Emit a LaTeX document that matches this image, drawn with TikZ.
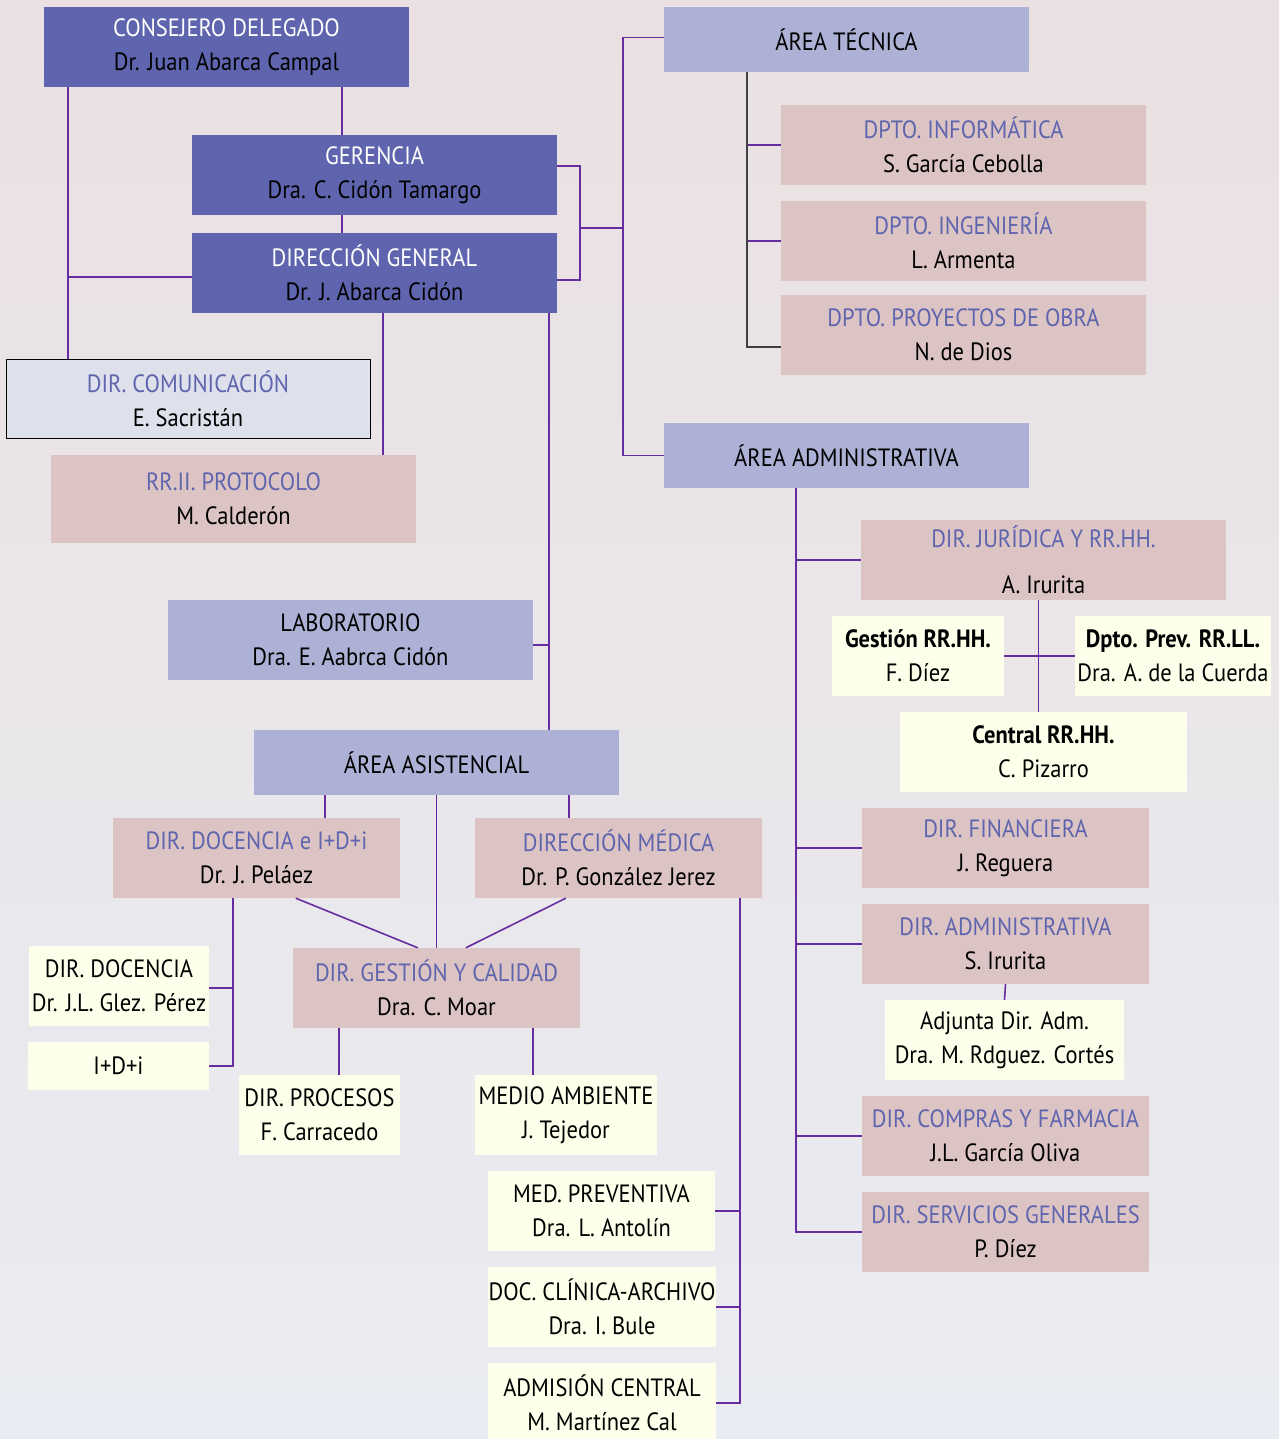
\documentclass[tikz,border=0pt]{standalone}
\usepackage{fontspec}
\setmainfont[FakeStretch=0.9]{PT Sans}
\usepackage{xcolor}
\usepackage{tikz}
\usetikzlibrary{calc}
\definecolor{darkcolor}{RGB}{94,101,174}
\definecolor{areacolor}{RGB}{173,177,213}
\definecolor{pinkcolor}{RGB}{221,196,196}
\definecolor{creamcolor}{RGB}{253,255,234}
\definecolor{commcolor}{RGB}{222,224,236}
\definecolor{titlecolor}{RGB}{94,101,174}
\definecolor{linkcolor}{RGB}{102,45,160}
\definecolor{bgtop}{RGB}{234,224,225}
\definecolor{bgbot}{RGB}{233,236,242}
\newcommand{\cargo}[1]{\textcolor{titlecolor}{#1}}

\begin{document}
\begin{tikzpicture}[
    x=1pt, y=-1pt,
    every node/.style={minimum height=80pt, inner sep=0pt, align=center, font=\fontsize{25}{34}\selectfont},
    darkbox/.style={fill=darkcolor, minimum width=365pt},
    areabox/.style={fill=areacolor, minimum width=365pt, minimum height=65pt},
    pinkbox/.style={fill=pinkcolor},
    creambox/.style={fill=creamcolor},
    commbox/.style={fill=commcolor, draw=black, line width=1pt},
    link/.style={draw=linkcolor, line width=1.6pt}
]
    % background
    \useasboundingbox (0,0) rectangle (1279,1439);
    \shade[top color=bgtop, bottom color=bgbot] (0,0) rectangle (1279,1439);

    % direccion
    \node[darkbox] (cd) at (226.5,47) {\textcolor{white}{CONSEJERO DELEGADO}\\Dr. Juan Abarca Campal};
    \node[darkbox] (ger) at (374.5,175) {\textcolor{white}{GERENCIA}\\Dra. C. Cidón Tamargo};
    \node[darkbox] (dg) at (374.5,273) {\textcolor{white}{DIRECCIÓN GENERAL}\\Dr. J. Abarca Cidón};
    \node[commbox, minimum width=364pt, minimum height=79pt] (com) at (188,398.5) {\cargo{DIR. COMUNICACIÓN}\\E. Sacristán};
    \node[pinkbox, minimum width=365pt, minimum height=88pt] (rrii) at (233.5,499) {\cargo{RR.II. PROTOCOLO}\\M. Calderón};
    \node[areabox, minimum height=80pt] (lab) at (350.5,640) {LABORATORIO\\Dra. E. Aabrca Cidón};

    % area tecnica
    \node[areabox] (atec) at (846.5,39.5) {ÁREA TÉCNICA};
    \node[pinkbox, minimum width=365pt] (inf) at (963.5,145) {\cargo{DPTO. INFORMÁTICA}\\S. García Cebolla};
    \node[pinkbox, minimum width=365pt] (ing) at (963.5,241) {\cargo{DPTO. INGENIERÍA}\\L. Armenta};
    \node[pinkbox, minimum width=365pt] (proy) at (963.5,335) {\cargo{DPTO. PROYECTOS DE OBRA}\\N. de Dios};

    % area administrativa
    \node[areabox] (aadm) at (846.5,455.5) {ÁREA ADMINISTRATIVA};
    \node[pinkbox, minimum width=365pt] (jur) at (1043.5,560) {\cargo{DIR. JURÍDICA Y RR.HH.}\\[12pt]A. Irurita};
    \node[creambox, minimum width=172pt] (gesth) at (918,656) {\textbf{Gestión RR.HH.}\\F. Díez};
    \node[creambox, minimum width=196pt] (prevl) at (1173,656) {\textbf{Dpto. Prev. RR.LL.}\\Dra. A. de la Cuerda};
    \node[creambox, minimum width=287pt] (centr) at (1043.5,752) {\textbf{Central RR.HH.}\\C. Pizarro};
    \node[pinkbox, minimum width=287pt] (fin) at (1005.5,848) {\cargo{DIR. FINANCIERA}\\J. Reguera};
    \node[pinkbox, minimum width=287pt] (dadm) at (1005.5,944) {\cargo{DIR. ADMINISTRATIVA}\\S. Irurita};
    \node[creambox, minimum width=239pt] (adj) at (1004.5,1040) {Adjunta Dir. Adm.\\Dra. M. Rdguez. Cortés};
    \node[pinkbox, minimum width=287pt] (comp) at (1005.5,1136) {\cargo{DIR. COMPRAS Y FARMACIA}\\J.L. García Oliva};
    \node[pinkbox, minimum width=287pt] (serv) at (1005.5,1232) {\cargo{DIR. SERVICIOS GENERALES}\\P. Díez};

    % area asistencial
    \node[areabox] (aasis) at (436.5,762.5) {ÁREA ASISTENCIAL};
    \node[pinkbox, minimum width=287pt] (doc) at (256.5,858) {\cargo{DIR. DOCENCIA e I+D+i}\\Dr. J. Peláez};
    \node[pinkbox, minimum width=287pt] (med) at (618.5,858) {\cargo{DIRECCIÓN MÉDICA}\\Dr. P. González Jerez};
    \node[pinkbox, minimum width=287pt] (gcal) at (436.5,988) {\cargo{DIR. GESTIÓN Y CALIDAD}\\Dra. C. Moar};
    \node[creambox, minimum width=180pt] (ddoc) at (119,986) {DIR. DOCENCIA\\Dr. J.L. Glez. Pérez};
    \node[creambox, minimum width=181pt, minimum height=48pt] (idi) at (118.5,1066) {I+D+i};
    \node[creambox, minimum width=161pt] (proc) at (319.5,1115) {DIR. PROCESOS\\F. Carracedo};
    \node[creambox, minimum width=182pt] (mamb) at (566,1115) {MEDIO AMBIENTE\\J. Tejedor};
    \node[creambox, minimum width=227pt] (mprev) at (601.5,1211) {MED. PREVENTIVA\\Dra. L. Antolín};
    \node[creambox, minimum width=228pt] (dclin) at (602,1307) {DOC. CLÍNICA-ARCHIVO\\Dra. I. Bule};
    \node[creambox, minimum width=228pt] (admc) at (602,1403) {ADMISIÓN CENTRAL\\M. Martínez Cal};

    % lineas de la direccion
    \coordinate (cdl) at ([xshift=24pt]cd.south west);
    \coordinate (cdm) at ([xshift=298pt]cd.south west);
    \draw[link] (cdl) -- (cdl |- com.north);
    \draw[link] ([yshift=-4pt]dg.west) -- ([yshift=-4pt]dg.west -| cdl);
    \draw[link] (cdm) -- (cdm |- ger.north);
    \draw[link] (cdm |- ger.south) -- (cdm |- dg.north);
    \coordinate (brk) at ($(ger.east)!0.5!(dg.east) + (23,4)$);
    \coordinate (spine) at ([xshift=43pt]brk);
    \draw[link] ([yshift=9pt]ger.east) -| (brk) |- ([yshift=-7pt]dg.east);
    \draw[link] (brk) -- (spine);
    \draw[link] ([yshift=2pt]atec.west) -| (spine) |- (aadm.west);
    \draw[link] ([xshift=191pt]dg.south west) -- ([xshift=191pt]dg.south west |- rrii.north);
    \coordinate (dgr) at ([xshift=-8pt]dg.south east);
    \draw[link] (dgr) -- (dgr |- aasis.north);
    \draw[link] ([yshift=-5pt]lab.east) -- ([yshift=-5pt]lab.east -| dgr);

    % lineas area tecnica
    \coordinate (atl) at ([xshift=83pt]atec.south west);
    \foreach \n in {inf,ing}
        \draw[link] (atl) |- (\n.west);
    \draw[link, draw=black!75] (atl) |- ([yshift=-12pt]proy.west);

    % lineas area administrativa
    \coordinate (aal) at ([xshift=132pt]aadm.south west);
    \foreach \n in {jur,fin,dadm,comp,serv}
        \draw[link] (aal) |- (\n.west);
    \draw[link] ([xshift=-5pt]jur.south) -- ([xshift=-5pt]jur.south |- centr.north);
    \draw[link] (gesth.east) -- (prevl.west);
    \draw[link] (dadm.south) -- (adj.north);

    % lineas area asistencial
    \draw[link] ([xshift=71pt]aasis.south west) -- ([xshift=71pt]aasis.south west |- doc.north);
    \draw[link] (aasis.south) -- (aasis.south |- gcal.north);
    \draw[link] ([xshift=-50pt]aasis.south east) -- ([xshift=-50pt]aasis.south east |- med.north);
    \draw[link] ([xshift=183pt]doc.south west) -- ([xshift=125pt]gcal.north west);
    \draw[link] ([xshift=91pt]med.south west) -- ([xshift=173pt]gcal.north west);
    \coordinate (docl) at ([xshift=120pt]doc.south west);
    \draw[link] (docl) |- (idi.east);
    \draw[link] ([yshift=-2pt]ddoc.east) -- ([yshift=-2pt]ddoc.east -| docl);
    \draw[link] ([xshift=46pt]gcal.south west) -- ([xshift=46pt]gcal.south west |- proc.north);
    \draw[link] ([xshift=240pt]gcal.south west) -- ([xshift=240pt]gcal.south west |- mamb.north);
    \coordinate (medr) at ([xshift=-22pt]med.south east);
    \foreach \n in {mprev,dclin,admc}
        \draw[link] (medr) |- (\n.east);
\end{tikzpicture}
\end{document}
